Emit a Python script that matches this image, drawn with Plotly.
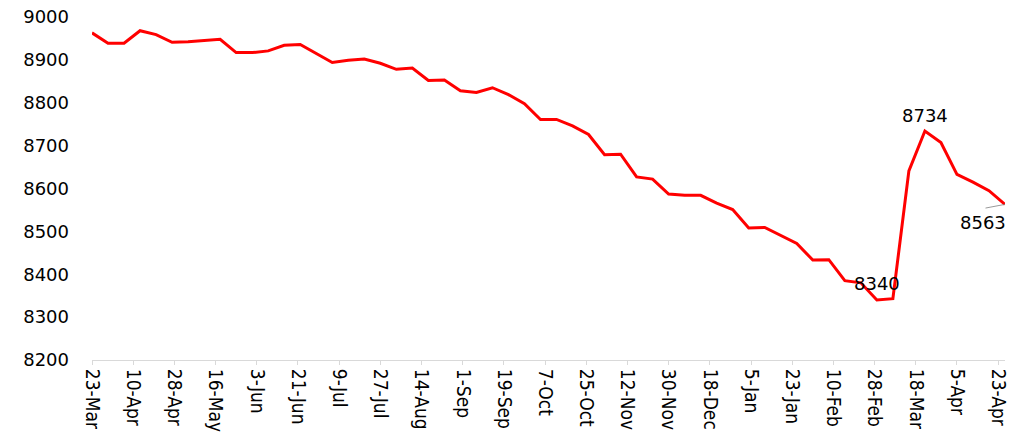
import plotly.graph_objects as go

dates = [
    "2020-03-23", "2020-03-30", "2020-04-06", "2020-04-13", "2020-04-20", "2020-04-27",
    "2020-05-04", "2020-05-11", "2020-05-18", "2020-05-25", "2020-06-01", "2020-06-08",
    "2020-06-15", "2020-06-22", "2020-06-29", "2020-07-06", "2020-07-13", "2020-07-20",
    "2020-07-27", "2020-08-03", "2020-08-10", "2020-08-17", "2020-08-24", "2020-08-31",
    "2020-09-07", "2020-09-14", "2020-09-21", "2020-09-28", "2020-10-05", "2020-10-12",
    "2020-10-19", "2020-10-26", "2020-11-02", "2020-11-09", "2020-11-16", "2020-11-23",
    "2020-11-30", "2020-12-07", "2020-12-14", "2020-12-21", "2020-12-28", "2021-01-04",
    "2021-01-11", "2021-01-18", "2021-01-25", "2021-02-01", "2021-02-08", "2021-02-15",
    "2021-02-22", "2021-03-01", "2021-03-08", "2021-03-15", "2021-03-22", "2021-03-29",
    "2021-04-05", "2021-04-12", "2021-04-19", "2021-04-26",
]

values = [
    8963, 8939, 8939, 8968, 8959, 8941, 8942, 8945, 8948, 8917,
    8917, 8921, 8934, 8936, 8915, 8894, 8899, 8902, 8892, 8878,
    8881, 8852, 8853, 8828, 8824, 8835, 8819, 8798, 8761, 8761,
    8746, 8726, 8679, 8680, 8627, 8622, 8587, 8584, 8584, 8566,
    8551, 8508, 8509, 8490, 8472, 8433, 8434, 8385, 8380, 8340,
    8343, 8641, 8734, 8707, 8633, 8615, 8595, 8563,
]

tick_dates = [
    "2020-03-23", "2020-04-10", "2020-04-28", "2020-05-16", "2020-06-03", "2020-06-21",
    "2020-07-09", "2020-07-27", "2020-08-14", "2020-09-01", "2020-09-19", "2020-10-07",
    "2020-10-25", "2020-11-12", "2020-11-30", "2020-12-18", "2021-01-05", "2021-01-23",
    "2021-02-10", "2021-02-28", "2021-03-18", "2021-04-05", "2021-04-23",
]
tick_labels = [
    "23-Mar", "10-Apr", "28-Apr", "16-May", "3-Jun", "21-Jun", "9-Jul", "27-Jul",
    "14-Aug", "1-Sep", "19-Sep", "7-Oct", "25-Oct", "12-Nov", "30-Nov", "18-Dec",
    "5-Jan", "23-Jan", "10-Feb", "28-Feb", "18-Mar", "5-Apr", "23-Apr",
]

y_ticks = [8200, 8300, 8400, 8500, 8600, 8700, 8800, 8900, 9000]

fig = go.Figure()
fig.add_trace(go.Scatter(
    x=dates, y=values, mode="lines",
    line=dict(color="#FF0000", width=3),
    hoverinfo="x+y", showlegend=False,
))

label_font = dict(family="DejaVu Sans", size=18, color="#000000")
i_min = values.index(min(values))
i_peak = i_min + values[i_min:].index(max(values[i_min:]))
i_last = len(values) - 1

fig.add_annotation(x=dates[i_peak], y=values[i_peak], text=str(values[i_peak]),
                   showarrow=False, yshift=16, font=label_font)
fig.add_annotation(x=dates[i_min], y=values[i_min], text=str(values[i_min]),
                   showarrow=False, yshift=16, font=label_font)
# leader line for the last label
fig.add_annotation(x=dates[i_last], y=values[i_last], text=" ",
                   showarrow=True, arrowhead=0, arrowwidth=0.8, arrowcolor="#808080",
                   ax=-21, ay=4, standoff=0, font=dict(size=1))
fig.add_annotation(x=dates[i_last], y=values[i_last], text=str(values[i_last]),
                   showarrow=False, xshift=-22, yshift=-18, font=label_font)

fig.update_layout(
    width=1022, height=435,
    margin=dict(l=92, r=17, t=17, b=75, autoexpand=False),
    paper_bgcolor="white", plot_bgcolor="white",
    xaxis=dict(
        type="date",
        range=["2020-03-23", "2021-04-26"],
        tickmode="array", tickvals=tick_dates, ticktext=tick_labels,
        tickangle=90,
        tickfont=dict(family="Liberation Sans Narrow, DejaVu Sans Condensed, Arial Narrow, sans-serif",
                      size=19, color="#000000"),
        showgrid=False, zeroline=False, automargin=False,
        showline=True, linecolor="#D9D9D9", linewidth=1,
        ticks="outside", ticklen=4, tickcolor="#D9D9D9",
    ),
    yaxis=dict(
        range=[8200, 9000],
        tickmode="array", tickvals=y_ticks,
        tickfont=dict(family="DejaVu Sans", size=18, color="#000000"),
        showgrid=False, zeroline=False, showline=False, automargin=False,
        ticks="", ticklabelstandoff=22,
    ),
)

fig.write_html("out.html", config={"displayModeBar": False},
               post_script="document.body.style.margin='0';")
